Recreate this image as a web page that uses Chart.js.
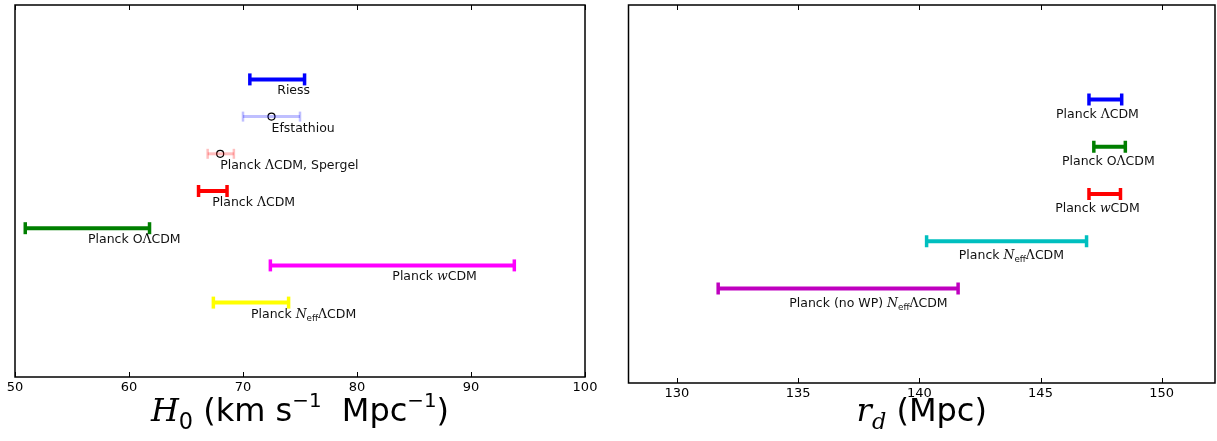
<!DOCTYPE html>
<html>
<head>
<meta charset="utf-8">
<script src="https://cdn.jsdelivr.net/npm/chart.js@4.4.0/dist/chart.umd.min.js"></script>
<style>
  html, body { margin: 0; padding: 0; background: #fff; }
  #left { position: absolute; left: 0; top: 0; }
  #right { position: absolute; left: 610px; top: 0; }
</style>
</head>
<body>
<canvas id="left" width="600" height="441"></canvas>
<canvas id="right" width="607" height="441"></canvas>
<script>
// left panel: H0 measurements
const h0Labels = ['Riess', 'Efstathiou', 'Planck ΛCDM, Spergel', 'Planck ΛCDM', 'Planck OΛCDM', 'Planck *w*CDM', 'Planck *N*_{eff}ΛCDM'];
const h0Low = [70.6, 70.0, 66.9, 66.1, 50.9, 72.4, 67.4];
const h0High = [75.4, 75.0, 69.2, 68.6, 61.8, 93.8, 74.0];
const h0Central = [73.0, 72.5, 68.0, 67.3, 56.4, 83.1, 70.7];
const h0Rows = [8, 7, 6, 5, 4, 3, 2];
const h0Open = [false, true, true, false, false, false, false];
const h0Ticks = [50, 60, 70, 80, 90, 100];
const h0Colors = ['#0000ff', 'rgba(0,0,255,0.25)', 'rgba(255,0,0,0.25)', '#ff0000', '#007f00', '#ff00ff', '#ffff00'];

// right panel: sound horizon
const rdLabels = ['Planck ΛCDM', 'Planck OΛCDM', 'Planck *w*CDM', 'Planck *N*_{eff}ΛCDM', 'Planck (no WP) *N*_{eff}ΛCDM'];
const rdLow = [147.0, 147.2, 147.0, 140.3, 131.7];
const rdHigh = [148.35, 148.5, 148.3, 146.9, 141.6];
const rdLabelX = [147.35, 147.8, 147.35, 143.8, 137.9];
const rdRows = [6, 5, 4, 3, 2];
const rdTicks = [130, 135, 140, 145, 150];
const rdColors = ['#0000ff', '#007f00', '#ff0000', '#00bfbf', '#bf00bf'];

// tiny markup: *x* italic serif, _{x} subscript, _[x] italic subscript, ^{x} superscript
function parse(text) {
  const re = /\*([^*]+)\*|_\{([^}]+)\}|_\[([^\]]+)\]|\^\{([^}]+)\}|(Λ)|([^*_^Λ]+)/g;
  const segs = [];
  let m;
  while ((m = re.exec(text))) {
    if (m[1]) segs.push({ t: m[1], kind: 'it' });
    else if (m[2]) segs.push({ t: m[2], kind: 'sub' });
    else if (m[3]) segs.push({ t: m[3], kind: 'subit' });
    else if (m[4]) segs.push({ t: m[4], kind: 'sup' });
    else if (m[5]) segs.push({ t: m[5], kind: 'serif' });
    else segs.push({ t: m[6], kind: 'sans' });
  }
  return segs;
}

function fontFor(kind, size) {
  if (kind === 'it') return 'italic ' + size + 'px "DejaVu Serif"';
  if (kind === 'serif') return size + 'px "DejaVu Serif"';
  if (kind === 'subit') return 'italic ' + (size * 0.7) + 'px "DejaVu Serif"';
  if (kind === 'sub') return (size * 0.7) + 'px "DejaVu Sans"';
  if (kind === 'sup') return (size * 0.62) + 'px "DejaVu Sans"';
  return size + 'px "DejaVu Sans"';
}

function drawRich(ctx, text, x, y, size, align) {
  const segs = parse(text);
  let w = 0;
  segs.forEach(s => { ctx.font = fontFor(s.kind, size); s.w = ctx.measureText(s.t).width; w += s.w; });
  let cx = align === 'center' ? x - w / 2 : x;
  ctx.textAlign = 'left';
  ctx.textBaseline = 'alphabetic';
  segs.forEach(s => {
    ctx.font = fontFor(s.kind, size);
    let dy = 0;
    if (s.kind === 'sub' || s.kind === 'subit') dy = size * 0.25;
    if (s.kind === 'sup') dy = -size * 0.45;
    ctx.fillText(s.t, cx, y + dy);
    cx += s.w;
  });
}

const frame = {
  id: 'frame',
  afterDraw(chart, args, opts) {
    const { ctx, chartArea: a, scales: { x, y } } = chart;
    ctx.save();
    ctx.strokeStyle = '#000';
    ctx.lineWidth = 1.5;
    ctx.strokeRect(a.left, a.top, a.right - a.left, a.bottom - a.top);
    ctx.lineWidth = 1;
    ctx.beginPath();
    x.ticks.forEach(t => {
      const px = Math.round(x.getPixelForValue(t.value)) + 0.5;
      ctx.moveTo(px, a.bottom); ctx.lineTo(px, a.bottom - 5);
      ctx.moveTo(px, a.top); ctx.lineTo(px, a.top + 5);
    });
    ctx.stroke();
    ctx.fillStyle = '#111';
    opts.labels.forEach((lab, i) => {
      drawRich(ctx, lab, x.getPixelForValue(opts.labelX[i]), y.getPixelForValue(opts.rows[i]) + opts.dy, 12.5, opts.align);
    });
    ctx.fillStyle = '#000';
    drawRich(ctx, opts.title, (a.left + a.right) / 2, opts.titleY, 32, 'center');
    ctx.restore();
  }
};

function barSets(low, high, rows, colors, widths) {
  return rows.map((r, i) => {
    const thin = widths && widths[i] < 4;
    return {
      data: [{ x: low[i], y: r }, { x: high[i], y: r }],
      showLine: true,
      borderColor: colors[i],
      backgroundColor: colors[i],
      borderWidth: widths ? widths[i] : 4,
      borderCapStyle: 'butt',
      pointStyle: 'line',
      rotation: 90,
      pointRadius: thin ? 5 : 6,
      pointHoverRadius: 6,
      pointBorderWidth: thin ? 2.5 : 3.5,
      clip: false
    };
  });
}

function makeChart(id, datasets, xMin, xMax, yMax, ticks, axisH, padding, frameOpts) {
  new Chart(document.getElementById(id), {
    type: 'scatter',
    data: { datasets },
    options: {
      responsive: false,
      animation: false,
      events: [],
      layout: { padding, autoPadding: false },
      plugins: { legend: { display: false }, tooltip: { enabled: false }, frame: frameOpts },
      scales: {
        x: {
          type: 'linear',
          min: xMin,
          max: xMax,
          afterBuildTicks: s => { s.ticks = ticks.map(v => ({ value: v })); },
          afterFit: s => { s.height = axisH; s.paddingLeft = 0; s.paddingRight = 0; },
          ticks: { color: '#000', padding: 3, font: { family: 'DejaVu Sans', size: 13 } },
          grid: { display: false, drawTicks: false },
          border: { display: false }
        },
        y: { display: false, min: 0, max: yMax }
      }
    },
    plugins: [frame]
  });
}

const h0Sets = barSets(h0Low, h0High, h0Rows, h0Colors, h0Open.map(o => o ? 3 : 4));
h0Sets.push({
  data: h0Rows.map((r, i) => ({ x: h0Central[i], y: r })).filter((p, i) => h0Open[i]),
  showLine: false,
  pointStyle: 'circle',
  pointRadius: 3.5,
  pointHoverRadius: 3.5,
  backgroundColor: '#fff',
  borderColor: '#000',
  pointBorderWidth: 1.2
});

makeChart('left', h0Sets, 50, 100, 10, h0Ticks, 64,
  { left: 15, right: 15, top: 5, bottom: 0 },
  { labels: h0Labels, labelX: h0Central, rows: h0Rows, dy: 15, align: 'left',
    title: '*H*_{0} (km s^{−1}  Mpc^{−1})', titleY: 421 });

makeChart('right', barSets(rdLow, rdHigh, rdRows, rdColors), 128, 152.2, 8, rdTicks, 58,
  { left: 18.5, right: 2, top: 5, bottom: 0 },
  { labels: rdLabels, labelX: rdLabelX, rows: rdRows, dy: 18, align: 'center',
    title: '*r*_[d] (Mpc)', titleY: 421 });
</script>
</body>
</html>
